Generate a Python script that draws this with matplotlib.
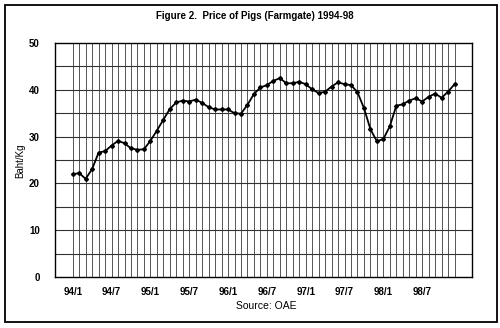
import matplotlib
matplotlib.use("Agg")
import matplotlib.pyplot as plt
from matplotlib.patches import Rectangle

# Farmgate pig price, Baht/Kg, monthly 1994/1 - 1998/12
price_1994 = [22.0, 22.2, 21.0, 23.1, 26.6, 26.9, 28.1, 29.1, 28.6, 27.5, 27.2, 27.3]
price_1995 = [29.1, 31.3, 33.6, 35.9, 37.3, 37.7, 37.5, 37.9, 37.2, 36.3, 35.8, 35.8]
price_1996 = [35.8, 35.0, 34.9, 36.8, 39.1, 40.5, 41.0, 41.9, 42.5, 41.4, 41.4, 41.7]
price_1997 = [41.2, 40.1, 39.3, 39.6, 40.7, 41.6, 41.2, 41.0, 39.5, 36.1, 31.6, 29.0]
price_1998 = [29.5, 32.2, 36.6, 36.9, 37.7, 38.2, 37.5, 38.5, 39.2, 38.3, 39.6, 41.2]
prices = price_1994 + price_1995 + price_1996 + price_1997 + price_1998
months = list(range(len(prices)))

tick_labels = ["94/1", "94/7", "95/1", "95/7", "96/1", "96/7", "97/1", "97/7", "98/1", "98/7"]
y_ticks = [0, 10, 20, 30, 40, 50]

plt.rcParams['font.family'] = ['Liberation Sans', 'DejaVu Sans']

fig = plt.figure(figsize=(5, 3.28), dpi=100)
ax = fig.add_axes([0.11, 0.155, 0.834, 0.714])

# grid: every month vertically, every 5 horizontally
for m in months:
    ax.axvline(m, color='#555555', lw=0.7, zorder=1)
for v in range(5, 50, 5):
    ax.axhline(v, color='#333333', lw=0.8, zorder=1)

ax.plot(months, prices, color='black', lw=1.3, marker='D', markersize=2.0, zorder=3)

ax.set_xlim(-2.74, 61.7)
ax.set_ylim(0, 50)
ax.set_xticks(months[::6])
ax.set_xticklabels(tick_labels, fontsize=7, fontweight='bold')
ax.set_yticks(y_ticks)
ax.set_yticklabels([str(v) for v in y_ticks], fontsize=7, fontweight='bold')
ax.tick_params(axis='x', length=0, pad=7)
ax.tick_params(axis='y', length=0, pad=11)
for s in ax.spines.values():
    s.set_color('black')
    s.set_linewidth(1.0)

fig.text(0.04, 0.51, 'Baht/Kg', rotation=90, ha='center', va='center', fontsize=7)
fig.text(0.51, 0.952, 'Figure 2.  Price of Pigs (Farmgate) 1994-98', ha='center', va='center',
         fontsize=7, fontweight='bold')
fig.text(0.532, 0.067, 'Source: OAE', ha='center', va='center', fontsize=7.5)

# outer frame of the figure
fig.patches.append(Rectangle((0.01, 0.018), 0.984, 0.967, transform=fig.transFigure,
                             fill=False, edgecolor='black', lw=1.3))

fig.savefig('out.png', dpi=100)
